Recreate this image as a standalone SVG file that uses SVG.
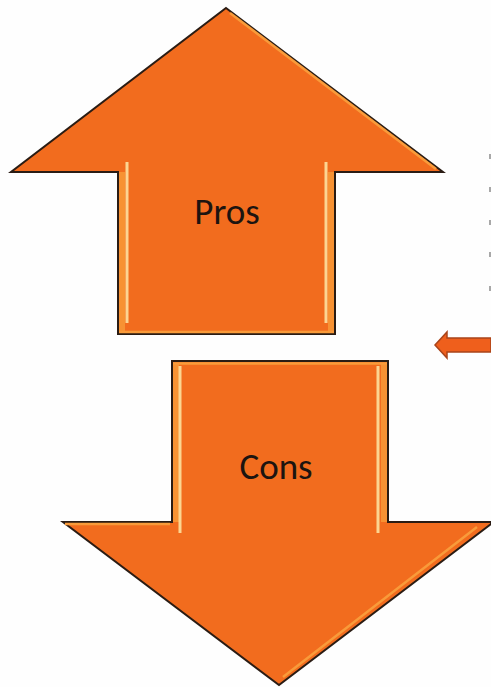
<svg xmlns="http://www.w3.org/2000/svg" width="491" height="687" viewBox="0 0 491 687">
<style>
.arrow{fill:#f26c1e;stroke:#2a1c14;stroke-width:2;stroke-linejoin:miter}
.shine{fill:none;stroke:#fcd592;stroke-width:3}
.glow{fill:none;stroke:#f99b3a;stroke-width:2.5}
.side{fill:none;stroke:#f79233;stroke-width:6}
.label{font-family:"Carlito","Open Sans","Liberation Sans",sans-serif;font-size:37px;fill:#1c1410;text-anchor:middle}
</style>
<rect width="491" height="687" fill="#fefefe"/>
<g id="pros">
<polygon class="arrow" points="226,8 443,172 335,172 335,334 118,334 118,172 11,172"/>
<path class="side" d="M122,172V331M331,172V331"/>
<path class="shine" d="M127,162V323M326,162V323"/>
<path class="glow" d="M119,332H334M230,13L436,169"/>
<text class="label" x="227" y="224">Pros</text>
</g>
<g id="cons">
<polygon class="arrow" points="172,361 388,361 388,522 491,522 491,524 279,685 63,522 172,522"/>
<path class="side" d="M176,364V522M384,364V522"/>
<path class="shine" d="M180,366V533M378,366V533"/>
<path class="glow" d="M173,363.500H387M477,527L283,677M65,524H170"/>
<text class="label" x="276" y="479">Cons</text>
</g>
<g id="connectors">
<polygon points="491,338 447,338 447,332 435,345 447,358 447,352 491,352" fill="#ef5f1c" stroke="#a9441a" stroke-width="1.5"/>
</g>
<g id="margin-marks" fill="#a8a8a8">
<rect x="489" y="154" width="2" height="5"/>
<rect x="489" y="187" width="2" height="5"/>
<rect x="489" y="220" width="2" height="5"/>
<rect x="489" y="252" width="2" height="5"/>
<rect x="489" y="286" width="2" height="5"/>
</g>
</svg>
